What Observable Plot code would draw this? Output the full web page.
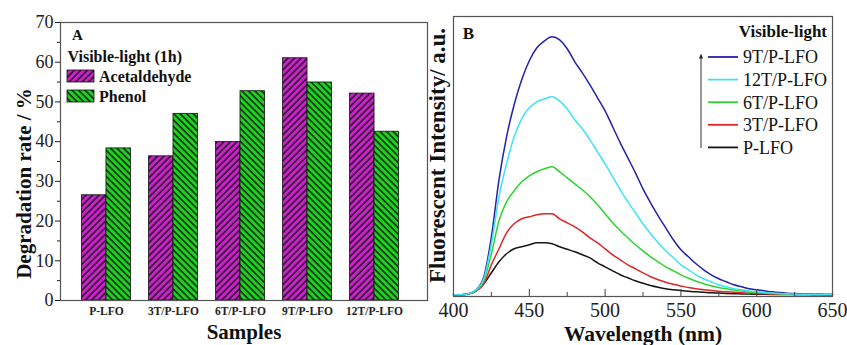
<!DOCTYPE html>
<html><head><meta charset="utf-8">
<script src="https://cdn.jsdelivr.net/npm/d3@7"></script>
<script src="https://cdn.jsdelivr.net/npm/@observablehq/plot@0.6"></script>
<style>
body{margin:0;background:#fff;}
#wrap{display:flex;width:847px;height:345px;font-family:"Liberation Serif","Times New Roman",serif;}
#wrap svg{display:block;overflow:visible;}
#wrap svg text{font-family:"Liberation Serif","Times New Roman",serif !important;}
</style></head><body><div id="wrap"></div>
<script>
// ---------- Panel A data ----------
const samples = ["P-LFO","3T/P-LFO","6T/P-LFO","9T/P-LFO","12T/P-LFO"];
const acetaldehyde = [26.5, 36.3, 39.9, 61.0, 52.1];
const phenol = [38.3, 47.0, 52.7, 54.9, 42.5];
const barSeries = ["Acetaldehyde", "Phenol"];
const yTicksA = [0, 10, 20, 30, 40, 50, 60, 70];
const yMinorA = [5, 15, 25, 35, 45, 55, 65];

// ---------- Panel B data ----------
const wavelength = [400,405,410,415,420,425,430,435,440,445,450,455,460,465,470,475,480,485,490,495,500,505,510,515,520,525,530,535,540,545,550,555,560,565,570,575,580,585,590,595,600,605,610,615,620,625,630,635,640,645,650];
const s9T  = [0,0,1,5,18,58,115,158,190,215,234,247,254,258,255,246,233,222,210,197,184,168,152,137,122,106,92,79,67,55,45,38,31,25,20,16,13,10,8,6,5,4,3,2.2,1.6,1.2,0.9,0.7,0.5,0.4,0.3];
const s12T = [0,0,1,5,16,51,98,131,158,176,187,193,196,198,194,186,175,166,155,143,131,118,105,93,82,71,61,52,44,37,30,25,20,16,13,10,8,6,5,3.8,3,2.3,1.7,1.3,1,0.8,0.6,0.5,0.4,0.3,0.3];
const s6T  = [0,0,1,4,14,41,74,93,104,113,119,123,126,128,123,117,111,105,98,90,81,72,64,57,50,44,38,33,28,24,20,16.5,13.5,11,9,7.3,6,4.7,3.7,2.9,2.2,1.7,1.3,1,0.8,0.6,0.5,0.4,0.3,0.3,0.2];
const s3T  = [0,0,1,4,11,30,46,62,71,76,78,80,81,81,76,72,68,63,57,52,46,40,35,30,26,22,18,15,12.5,10.5,8.8,7.2,6,5,4.2,3.5,3,2.5,2,1.6,1.3,1,0.8,0.6,0.5,0.4,0.3,0.3,0.2,0.2,0.2];
const sP   = [0,0,1,4,11,22,33,41,46,48,50,52,52,51,48,45.5,43,40,37,32,28,24,20,17,14,11.5,9.3,7.5,6,5,4.2,3.5,3,2.5,2,1.7,1.4,1.1,0.9,0.7,0.6,0.5,0.4,0.3,0.3,0.2,0.2,0.2,0.1,0.1,0.1];
const seriesNames = ["9T/P-LFO","12T/P-LFO","6T/P-LFO","3T/P-LFO","P-LFO"];
const seriesValues = [s9T, s12T, s6T, s3T, sP];
const seriesColors = ["#2222aa","#3fe3f2","#2ed22e","#dd2525","#151515"];
const drawOrder = ["P-LFO","3T/P-LFO","6T/P-LFO","9T/P-LFO","12T/P-LFO"];
const xTicksB = [400,450,500,550,600,650];
const xMinorB = [425,475,525,575,625];

const FONT = '"Liberation Serif", "Times New Roman", serif';
const wrap = document.getElementById("wrap");
const T = {lineAnchor: "middle", textAnchor: "middle", fill: "#111", fontWeight: "bold"};

// ================= Panel A =================
const xRangeA = [63.4, 416.6], padA = 0.27;
const bw = d3.scaleBand(samples, xRangeA).paddingInner(padA).paddingOuter(padA).bandwidth();
const accData = samples.map((s, i) => ({sample: s, value: acetaldehyde[i]}));
const phData = samples.map((s, i) => ({sample: s, value: phenol[i]}));

const plotA = Plot.plot({
  width: 430, height: 345,
  marginLeft: 60, marginRight: 3, marginTop: 22, marginBottom: 45,
  style: {fontFamily: FONT, background: "transparent", color: "#222"},
  x: {domain: samples, range: xRangeA, padding: padA, round: false},
  y: {domain: [0, 70]},
  marks: [
    Plot.barY(accData, {x: "sample", y: "value", fill: "url(#hatchAcet)", stroke: "#111", strokeWidth: 0.8, insetLeft: 0, insetRight: bw / 2}),
    Plot.barY(phData, {x: "sample", y: "value", fill: "url(#hatchPhen)", stroke: "#111", strokeWidth: 0.8, insetLeft: bw / 2, insetRight: 0}),
    Plot.axisY({ticks: yTicksA, tickSize: 5, tickPadding: 2, fontSize: 18, label: null}),
    Plot.axisY({ticks: yMinorA, tickSize: 3, tickFormat: () => "", label: null}),
    Plot.axisX({tickSize: 0, tickPadding: 6, fontSize: 11.5, fontWeight: "bold", label: null}),
    Plot.frame({stroke: "#555", strokeWidth: 1.2}),
    Plot.text(["Samples"], {...T, frameAnchor: "bottom", dy: 32, fontSize: 21}),
    Plot.text(["Degradation rate / %"], {...T, frameAnchor: "left", dx: -36, dy: 22, rotate: -90, fontSize: 21}),
    Plot.text(["A"], {...T, frameAnchor: "top-left", dx: 17, dy: 13, fontSize: 15}),
    Plot.text(["Visible-light (1h)"], {...T, frameAnchor: "top-left", textAnchor: "start", dx: 7, dy: 34, fontSize: 16})
  ]
});
wrap.appendChild(plotA);

// hatch patterns
const svgA = d3.select(plotA);
const defs = svgA.insert("defs", ":first-child");
function hatch(id, color, angle) {
  const p = defs.append("pattern").attr("id", id).attr("patternUnits", "userSpaceOnUse")
    .attr("width", 4.6).attr("height", 4.6).attr("patternTransform", `rotate(${angle})`);
  p.append("rect").attr("width", 4.6).attr("height", 4.6).attr("fill", color);
  p.append("line").attr("x1", 1).attr("x2", 1).attr("y1", 0).attr("y2", 4.6).attr("stroke", "#111").attr("stroke-width", 1.4);
}
hatch("hatchAcet", "#cc22cc", 45);
hatch("hatchPhen", "#1fd21f", -45);

// legend A
const legA = svgA.append("g").attr("font-family", FONT).attr("font-weight", "bold").attr("font-size", 16).attr("fill", "#111").attr("text-anchor", "start");
barSeries.forEach((name, i) => {
  const y0 = 70 + i * 20;
  legA.append("rect").attr("x", 67).attr("y", y0).attr("width", 27).attr("height", 12)
    .attr("fill", i === 0 ? "url(#hatchAcet)" : "url(#hatchPhen)").attr("stroke", "#111").attr("stroke-width", 0.8);
  legA.append("text").attr("x", 99).attr("y", y0 + 11.5).attr("text-anchor", "start").text(name);
});

// ================= Panel B =================
const lineData = [];
drawOrder.forEach(name => {
  const k = seriesNames.indexOf(name);
  wavelength.forEach((w, i) => lineData.push({series: name, w, v: seriesValues[k][i]}));
});

const plotB = Plot.plot({
  width: 417, height: 345,
  marginLeft: 23, marginRight: 15, marginTop: 16, marginBottom: 49,
  style: {fontFamily: FONT, background: "transparent", color: "#222"},
  x: {domain: [400, 650]},
  y: {domain: [-1.7, 278.3], axis: null},
  color: {domain: seriesNames, range: seriesColors},
  marks: [
    Plot.line(lineData, {x: "w", y: "v", z: "series", stroke: "series", strokeWidth: 1.5, curve: "monotone-x"}),
    Plot.tickX(xTicksB, {x: d => d, insetTop: 273, stroke: "#444", strokeWidth: 1}),
    Plot.tickX(xMinorB, {x: d => d, insetTop: 276, stroke: "#444", strokeWidth: 1}),
    Plot.axisX({ticks: xTicksB, tickSize: 0, tickPadding: 6, fontSize: 20, label: null}),
    Plot.frame({stroke: "#555", strokeWidth: 1.2}),
    Plot.text(["Wavelength (nm)"], {...T, frameAnchor: "bottom", dy: 38, fontSize: 21.5}),
    Plot.text(["Fluorescent Intensity/ a.u."], {...T, frameAnchor: "left", dx: -16, dy: -1, rotate: -90, fontSize: 23}),
    Plot.text(["B"], {...T, frameAnchor: "top-left", dx: 15, dy: 17, fontSize: 17})
  ]
});
wrap.appendChild(plotB);

// legend B
const svgB = d3.select(plotB);
const defsB = svgB.insert("defs", ":first-child");
defsB.append("marker").attr("id", "arrowHead").attr("viewBox", "0 0 10 10").attr("refX", 5).attr("refY", 5)
  .attr("markerWidth", 5).attr("markerHeight", 5).attr("orient", "auto")
  .append("path").attr("d", "M0,1 L10,5 L0,9 Z").attr("fill", "#222");
const legB = svgB.append("g").attr("font-family", FONT).attr("fill", "#111").attr("text-anchor", "start");
legB.append("text").attr("x", 397).attr("y", 37).attr("text-anchor", "end").attr("font-size", 17).attr("font-weight", "bold").text("Visible-light");
seriesNames.forEach((name, i) => {
  const y = 57 + i * 22.6;
  legB.append("line").attr("x1", 278).attr("x2", 308).attr("y1", y).attr("y2", y).attr("stroke", seriesColors[i]).attr("stroke-width", 1.8);
  legB.append("text").attr("x", 313).attr("y", y).attr("dy", "0.35em").attr("text-anchor", "start").attr("font-size", 18).text(name);
});
legB.append("line").attr("x1", 271).attr("x2", 271).attr("y1", 148).attr("y2", 56)
  .attr("stroke", "#333").attr("stroke-width", 1).attr("marker-end", "url(#arrowHead)");
</script>
</body></html>
